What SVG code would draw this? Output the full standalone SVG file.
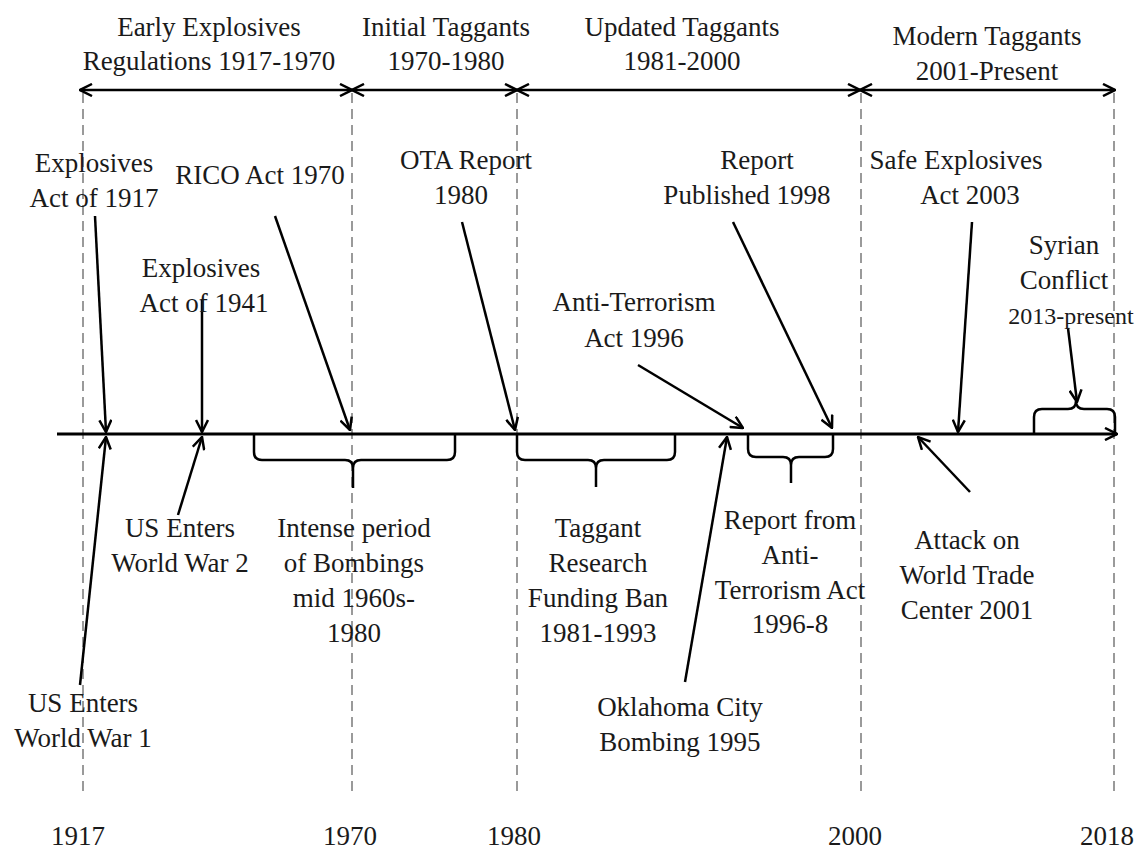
<svg xmlns="http://www.w3.org/2000/svg" width="1141" height="850" viewBox="0 0 1141 850">
<style>
text{font-family:"Liberation Serif","Times New Roman",serif;font-size:27px;fill:#1a1a1a;text-anchor:middle}
.dash{stroke:#9a9a9a;stroke-width:2;stroke-dasharray:10,6;fill:none}
.arr{stroke:#000;stroke-width:2.5;fill:none;marker-end:url(#ah)}
.per{stroke:#000;stroke-width:2.5;fill:none;marker-start:url(#ah);marker-end:url(#ah)}
.br{stroke:#000;stroke-width:2.5;fill:none;stroke-linejoin:round}
</style>
<defs>
<marker id="ah" viewBox="0 0 14 14" refX="13" refY="7" markerWidth="14" markerHeight="14" markerUnits="userSpaceOnUse" orient="auto-start-reverse">
<path d="M1,1 L13,7 L1,13" fill="none" stroke="#000" stroke-width="2.5"/>
</marker>
</defs>
<rect width="1141" height="850" fill="#fff"/>
<g id="gridlines">
<line class="dash" x1="83" y1="93" x2="83" y2="795"/>
<line class="dash" x1="352" y1="93" x2="352" y2="795"/>
<line class="dash" x1="517" y1="93" x2="517" y2="795"/>
<line class="dash" x1="861" y1="93" x2="861" y2="795"/>
<line class="dash" x1="1114" y1="93" x2="1114" y2="795"/>
</g>
<g id="periods">
<text x="209" y="36">Early Explosives</text>
<text x="209" y="70">Regulations 1917-1970</text>
<text x="446" y="36">Initial Taggants</text>
<text x="446" y="70">1970-1980</text>
<text x="682" y="36">Updated Taggants</text>
<text x="682" y="70">1981-2000</text>
<text x="987" y="45">Modern Taggants</text>
<text x="987" y="80">2001-Present</text>
</g>
<g id="connectors">
<path class="per" d="M80,90 H352"/>
<path class="per" d="M352,90 H517"/>
<path class="per" d="M517,90 H860"/>
<path class="per" d="M860,90 H1115"/>
<path d="M57,434 H1117" stroke="#000" stroke-width="3" fill="none" marker-end="url(#ah)"/>
<path class="arr" d="M95,216 L106,432"/>
<path class="arr" d="M80,685 L106,437"/>
<path class="arr" d="M202,300 L202,432"/>
<path class="arr" d="M178,515 L202,437"/>
<path class="arr" d="M275,216 L350,430"/>
<path class="arr" d="M462,222 L515,430"/>
<path class="arr" d="M733,222 L832,428"/>
<path class="arr" d="M972,222 L958,432"/>
<path class="arr" d="M638,365 L743,428"/>
<path class="arr" d="M685,682 L727,437"/>
<path class="arr" d="M970,492 L918,437"/>
<path class="arr" d="M1068,328 L1077,402"/>
<path class="br" d="M254,434 V452 Q254,460 262,460 H345 Q353,460 353,468 V488 M353,468 Q353,460 361,460 H447 Q455,460 455,452 V434"/>
<path class="br" d="M517,434 V452 Q517,460 525,460 H588 Q596,460 596,468 V487 M596,468 Q596,460 604,460 H667 Q675,460 675,452 V434"/>
<path class="br" d="M748,434 V449 Q748,457 756,457 H783 Q791,457 791,465 V483 M791,465 Q791,457 799,457 H825 Q833,457 833,449 V434"/>
<path class="br" d="M1034,434 V417 Q1034,409 1042,409 H1068 Q1076,409 1076,401 M1076,401 Q1076,409 1084,409 H1107 Q1115,409 1115,417 V434"/>
</g>
<g id="ev-1917"><text x="94" y="172">Explosives</text><text x="94" y="207">Act of 1917</text></g>
<g id="ev-ww1"><text x="83" y="712">US Enters</text><text x="83" y="747">World War 1</text></g>
<g id="ev-1941"><text x="201" y="277">Explosives</text><text x="204" y="312">Act of 1941</text></g>
<g id="ev-ww2"><text x="180" y="537">US Enters</text><text x="180" y="572">World War 2</text></g>
<g id="ev-rico"><text x="260" y="184">RICO Act 1970</text></g>
<g id="ev-bombings"><text x="354" y="537">Intense period</text><text x="354" y="572">of Bombings</text><text x="354" y="607">mid 1960s-</text><text x="354" y="642">1980</text></g>
<g id="ev-ota"><text x="466" y="169">OTA Report</text><text x="461" y="204">1980</text></g>
<g id="ev-ban"><text x="598" y="537">Taggant</text><text x="598" y="572">Research</text><text x="598" y="607">Funding Ban</text><text x="598" y="642">1981-1993</text></g>
<g id="ev-antiterror"><text x="634" y="311">Anti-Terrorism</text><text x="634" y="347">Act 1996</text></g>
<g id="ev-okc"><text x="680" y="716">Oklahoma City</text><text x="680" y="751">Bombing 1995</text></g>
<g id="ev-report-at"><text x="790" y="529">Report from</text><text x="790" y="564">Anti-</text><text x="790" y="599">Terrorism Act</text><text x="790" y="633">1996-8</text></g>
<g id="ev-report98"><text x="757" y="169">Report</text><text x="747" y="204">Published 1998</text></g>
<g id="ev-safe"><text x="956" y="169">Safe Explosives</text><text x="970" y="204">Act 2003</text></g>
<g id="ev-wtc"><text x="967" y="549">Attack on</text><text x="967" y="584">World Trade</text><text x="967" y="619">Center 2001</text></g>
<g id="ev-syria"><text x="1064" y="254">Syrian</text><text x="1064" y="289">Conflict</text><text x="1071" y="324" style="font-size:24px">2013-present</text></g>
<g id="years">
<text x="78" y="845">1917</text>
<text x="350" y="845">1970</text>
<text x="514" y="845">1980</text>
<text x="855" y="845">2000</text>
<text x="1107" y="845">2018</text>
</g>
</svg>
